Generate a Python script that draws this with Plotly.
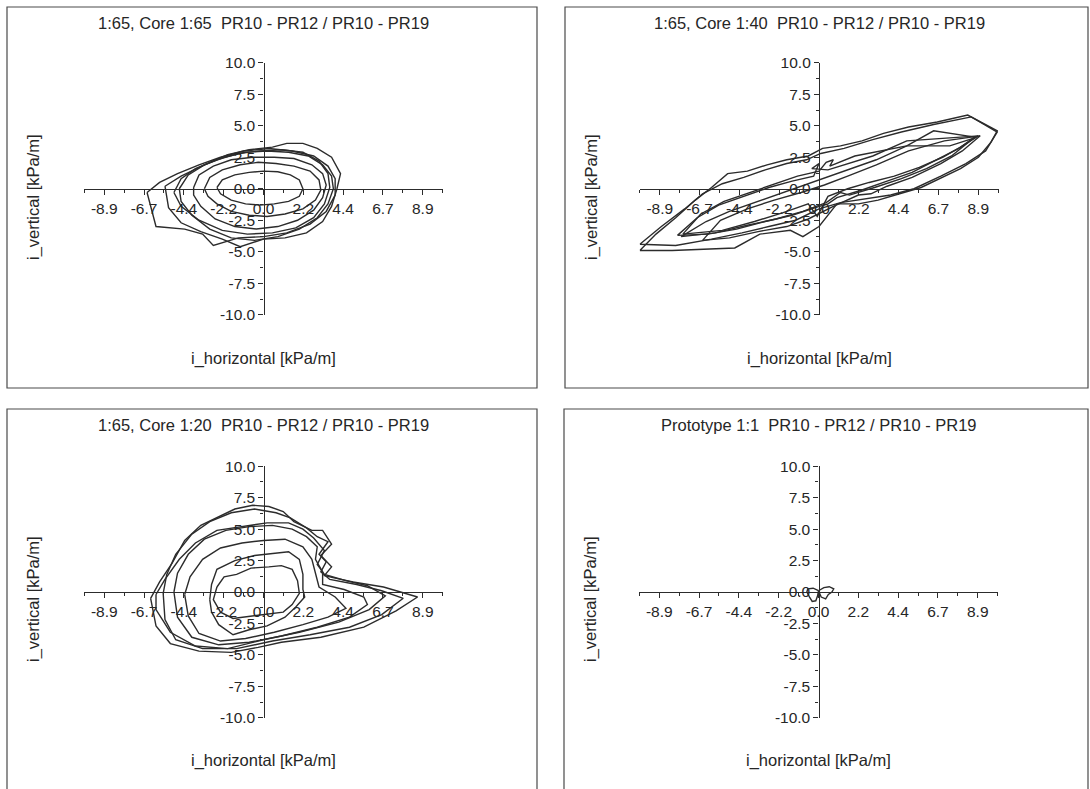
import plotly.graph_objects as go

# ---------------------------------------------------------------------------
# Tick labels (shared by all four panels)
# ---------------------------------------------------------------------------
XTICK_TEXT = ["-8.9", "-6.7", "-4.4", "-2.2", "0.0", "2.2", "4.4", "6.7", "8.9"]
XTICK_VALS = [k * 20 / 9 for k in range(-4, 5)]
XMINOR_VALS = [-10, -70 / 9, -50 / 9, -30 / 9, -10 / 9, 10 / 9, 30 / 9, 50 / 9, 70 / 9, 10]
YTICK_TEXT = ["-10.0", "-7.5", "-5.0", "-2.5", "0.0", "2.5", "5.0", "7.5", "10.0"]
YTICK_VALS = [-10, -7.5, -5, -2.5, 0, 2.5, 5, 7.5, 10]
YMINOR_VALS = [-8.75, -6.25, -3.75, -1.25, 1.25, 3.75, 6.25, 8.75]

TITLES = [
    "1:65, Core 1:65  PR10 - PR12 / PR10 - PR19",
    "1:65, Core 1:40  PR10 - PR12 / PR10 - PR19",
    "1:65, Core 1:20  PR10 - PR12 / PR10 - PR19",
    "Prototype 1:1  PR10 - PR12 / PR10 - PR19",
]
X_TITLE = "i_horizontal [kPa/m]"
Y_TITLE = "i_vertical [kPa/m]"

# ---------------------------------------------------------------------------
# Measured loops (i_horizontal, i_vertical) in kPa/m
# ---------------------------------------------------------------------------
# Core 1:65
c65_a = [(-2.6, 0.1), (-2.3, 0.7), (-1.6, 1.1), (-0.8, 1.3), (0.0, 1.4), (0.8, 1.35), (1.5, 1.1),
         (2.0, 0.7), (2.2, 0.0), (2.0, -0.6), (1.4, -1.0), (0.6, -1.2), (-0.2, -1.3), (-1.0, -1.2),
         (-1.8, -0.9), (-2.4, -0.4), (-2.6, 0.1)]
c65_b = [(-3.3, 0.0), (-3.0, 0.9), (-2.3, 1.5), (-1.3, 1.9), (-0.3, 2.1), (0.7, 2.0), (1.7, 1.8),
         (2.6, 1.4), (3.1, 0.7), (3.2, -0.1), (2.9, -0.9), (2.2, -1.6), (1.2, -2.0), (0.2, -2.2),
         (-0.8, -2.1), (-1.8, -1.8), (-2.6, -1.2), (-3.1, -0.6), (-3.3, 0.0)]
c65_c = [(-3.9, 0.1), (-3.6, 1.1), (-2.8, 1.8), (-1.8, 2.3), (-0.6, 2.5), (0.6, 2.5), (1.7, 2.4),
         (2.7, 1.9), (3.3, 1.2), (3.5, 0.3), (3.3, -0.7), (2.8, -1.7), (1.9, -2.5), (0.8, -3.0),
         (-0.4, -3.2), (-1.6, -3.0), (-2.7, -2.4), (-3.5, -1.4), (-3.9, -0.5), (-3.9, 0.1)]
c65_d = [(-4.7, 0.0), (-4.2, 1.1), (-3.3, 1.9), (-2.2, 2.5), (-1.0, 2.9), (0.2, 3.0), (1.4, 2.9),
         (2.5, 2.6), (3.3, 1.9), (3.8, 1.0), (3.9, 0.0), (3.6, -1.2), (3.0, -2.3), (2.0, -3.2),
         (0.8, -3.8), (-0.5, -4.1), (-1.8, -3.9), (-3.0, -3.2), (-4.0, -2.1), (-4.6, -1.0), (-4.7, 0.0)]
c65_e = [(-6.5, -0.3), (-5.8, 0.5), (-4.8, 1.2), (-3.6, 1.9), (-2.4, 2.5), (-1.1, 3.0), (0.3, 3.2),
         (1.6, 3.0), (2.8, 2.6), (3.6, 1.8), (4.0, 0.8), (4.0, -0.5), (3.5, -1.8), (2.6, -2.8),
         (1.3, -3.5), (0.0, -3.8), (-1.4, -3.9), (-2.8, -4.5), (-3.4, -3.6), (-4.4, -3.2),
         (-6.0, -3.0), (-6.5, -0.3)]
c65_f = [(-5.5, 0.2), (-4.6, 1.0), (-3.3, 1.9), (-2.0, 2.7), (-0.8, 3.1), (0.5, 3.3), (1.3, 3.6),
         (2.2, 3.6), (3.0, 3.2), (3.8, 2.5), (4.3, 1.2), (4.1, 0.0), (3.8, -1.4), (3.3, -2.6),
         (2.4, -3.5), (1.2, -3.9), (0.0, -4.0), (-1.3, -4.6), (-2.3, -4.0), (-3.5, -3.4),
         (-4.6, -2.7), (-5.3, -1.5), (-5.5, 0.2)]
c65_g = [(-5.0, -0.3), (-4.6, 0.8), (-3.8, 1.6), (-2.6, 2.3), (-1.4, 2.8), (-0.2, 3.0), (1.0, 3.1),
         (2.2, 2.9), (3.1, 2.2), (3.6, 1.2), (3.7, 0.1), (3.4, -1.2), (2.8, -2.3), (1.8, -3.1),
         (0.5, -3.5), (-0.9, -3.6), (-2.3, -3.3), (-3.6, -2.5), (-4.6, -1.4), (-5.0, -0.3)]

# Core 1:40
c40_a = [(-10.0, -4.9), (-9.1, -3.6), (-8.0, -2.3), (-6.9, -0.9), (-6.0, 0.1), (-5.1, 1.2), (-4.0, 1.4),
         (-2.9, 1.9), (-1.8, 2.3), (-0.6, 2.6), (0.2, 3.2), (1.2, 3.4), (2.4, 3.8), (3.6, 4.4), (5.0, 4.9),
         (6.6, 5.3), (8.3, 5.85), (9.95, 4.6), (9.6, 3.7), (8.9, 2.5), (7.9, 1.6), (6.9, 0.9), (5.7, 0.1),
         (4.5, -0.4), (3.3, -0.9), (2.2, -1.2), (1.0, -1.2), (0.0, -3.0), (-0.9, -3.8), (-1.6, -3.3),
         (-3.3, -3.6), (-4.7, -4.7), (-6.5, -4.8), (-8.2, -4.9), (-10.0, -4.9)]
c40_b = [(-10.0, -4.4), (-8.8, -3.0), (-7.5, -1.6), (-6.5, -0.4), (-5.4, 0.4), (-4.2, 0.9), (-3.0, 1.5),
         (-1.8, 2.0), (-0.7, 2.3), (0.1, 2.8), (1.4, 3.2), (3.0, 3.9), (4.6, 4.5), (6.4, 5.1), (8.5, 5.7),
         (9.95, 4.5), (9.3, 3.0), (8.2, 2.0), (6.8, 1.0), (5.3, 0.0), (4.0, -0.5), (2.6, -0.8),
         (1.2, -1.1), (0.0, -1.6), (-1.3, -2.5), (-2.8, -3.0), (-4.3, -3.5), (-6.0, -4.0), (-8.0, -4.5),
         (-10.0, -4.4)]
c40_c = [(-7.9, -3.7), (-6.8, -2.3), (-5.6, -1.3), (-4.2, -0.6), (-2.8, 0.1), (-1.5, 0.6), (-0.3, 1.0),
         (0.0, 2.0), (-0.4, 1.6), (0.5, 1.5), (1.6, 2.0), (3.0, 2.6), (4.9, 3.8), (8.9, 4.2), (7.8, 3.2),
         (6.6, 2.3), (5.2, 1.3), (3.8, 0.6), (2.4, -0.1), (1.0, -0.7), (0.5, -1.2), (-0.2, -1.5),
         (-1.5, -2.1), (-3.0, -2.6), (-4.6, -3.2), (-6.2, -3.6), (-7.9, -3.7)]
c40_d = [(-7.7, -3.8), (-6.3, -2.6), (-5.0, -1.8), (-3.6, -1.1), (-2.2, -0.4), (-0.9, 0.2), (0.3, 0.8),
         (1.6, 1.5), (3.2, 2.3), (4.9, 3.4), (7.3, 3.4), (8.6, 4.0), (7.4, 2.6), (6.0, 1.6), (4.6, 0.8),
         (3.1, 0.1), (1.7, -0.5), (1.2, -0.3), (0.4, -1.1), (-0.9, -1.8), (-2.4, -2.4), (-4.0, -2.9),
         (-5.8, -3.5), (-7.7, -3.8)]
c40_e = [(-7.6, -3.6), (-6.6, -2.0), (-5.3, -1.0), (-3.9, -0.3), (-2.5, 0.4), (-1.2, 1.0), (0.0, 1.4),
         (0.4, 2.1), (0.8, 2.3), (0.6, 1.8), (2.0, 2.6), (3.4, 3.0), (4.9, 3.4), (6.4, 4.6), (8.7, 4.1),
         (7.9, 3.3), (6.9, 2.5), (5.6, 1.7), (4.2, 1.0), (2.8, 0.5), (1.6, 0.0), (0.5, -0.6),
         (-0.1, -2.2), (-0.6, -1.2), (-2.0, -1.9), (-3.6, -2.6), (-5.4, -3.3), (-7.6, -3.6)]
c40_f = [(-6.5, -4.1), (-5.5, -2.5), (-4.0, -1.6), (-2.5, -0.9), (-1.0, -0.3), (0.3, 0.3), (1.6, 1.0),
         (3.2, 1.9), (5.0, 3.0), (7.0, 3.8), (9.0, 4.2), (8.0, 3.0), (6.8, 2.0), (5.2, 0.9), (3.8, 0.2),
         (2.9, -0.4), (2.2, -0.5), (1.6, -0.9), (0.8, -1.4), (-0.6, -2.4), (-1.8, -3.0), (-3.4, -3.4),
         (-5.0, -3.9), (-6.5, -4.1)]

# Core 1:20
c20_a = [(-6.3, -0.5), (-5.8, 0.8), (-5.1, 2.3), (-4.4, 4.1), (-3.5, 5.3), (-2.5, 6.0), (-1.6, 6.6),
         (-0.6, 6.9), (0.3, 6.8), (1.1, 6.4), (1.7, 5.6), (2.7, 4.9), (3.3, 4.9), (3.8, 3.8), (3.2, 2.9),
         (3.8, 2.0), (3.4, 1.3), (4.0, 1.1), (5.0, 0.8), (6.7, 0.4), (8.6, -0.4), (7.4, -1.5),
         (5.6, -2.8), (3.2, -3.6), (1.0, -4.0), (-0.3, -4.4), (-1.8, -4.8), (-3.6, -4.7), (-5.2, -4.1),
         (-6.0, -2.7), (-6.3, -0.5)]
c20_b = [(-5.6, -0.1), (-5.4, 1.4), (-4.9, 3.0), (-4.0, 4.6), (-3.0, 5.6), (-1.8, 6.3), (-0.5, 6.6),
         (0.7, 6.3), (1.5, 5.9), (2.4, 5.1), (3.0, 4.4), (3.6, 4.0), (3.1, 3.0), (3.5, 2.4), (3.2, 1.6),
         (3.7, 1.0), (5.2, 0.6), (6.6, 0.1), (7.8, -0.5), (6.6, -1.8), (4.8, -2.8), (2.6, -3.4),
         (0.5, -3.9), (-1.5, -4.5), (-3.4, -4.5), (-4.9, -3.8), (-5.5, -2.2), (-5.6, -0.1)]
c20_c = [(-5.0, 0.0), (-4.8, 1.5), (-4.2, 3.0), (-3.3, 4.2), (-2.1, 4.9), (-0.8, 5.2), (0.5, 5.3),
         (1.6, 5.0), (2.4, 4.4), (3.0, 3.6), (2.9, 2.6), (3.3, 1.6), (3.3, 0.6), (4.5, 0.2), (5.6, -0.4),
         (5.8, -1.0), (4.8, -2.0), (3.0, -2.8), (1.0, -3.5), (-0.8, -4.0), (-2.5, -4.2), (-4.0, -3.6),
         (-4.8, -2.0), (-5.0, 0.0)]
c20_d = [(-4.4, -0.2), (-4.1, 1.2), (-3.4, 2.6), (-2.4, 3.5), (-1.2, 3.9), (0.0, 4.1), (1.2, 4.2),
         (2.2, 3.6), (2.7, 2.6), (2.9, 1.5), (3.1, 0.4), (4.0, -0.4), (4.6, -1.3), (3.6, -2.0),
         (2.2, -2.6), (0.6, -3.2), (-1.0, -3.7), (-2.4, -3.9), (-3.6, -3.3), (-4.2, -1.9), (-4.4, -0.2)]
c20_e = [(-3.0, -0.6), (-2.9, 0.6), (-2.6, 1.8), (-1.6, 2.5), (-0.5, 2.9), (0.6, 3.1), (1.4, 3.2),
         (2.0, 2.6), (2.2, 1.4), (2.2, 0.2), (2.3, -0.4), (1.8, -1.2), (1.2, -2.0), (0.2, -2.7),
         (-0.8, -3.0), (-1.7, -3.4), (-2.5, -2.6), (-2.9, -1.6), (-3.0, -0.6)]
c20_f = [(-2.6, 0.4), (-2.2, 1.2), (-1.5, 1.4), (-0.7, 1.9), (0.3, 2.0), (1.0, 2.1), (1.6, 1.8),
         (1.9, 0.9), (2.0, -0.1), (1.6, -1.0), (1.1, -1.6), (0.0, -1.8), (-0.8, -1.9), (-1.7, -2.1),
         (-2.4, -1.6), (-2.8, -0.6), (-2.6, 0.4)]
c20_g = [(-6.0, -0.2), (-5.5, 1.0), (-4.7, 2.6), (-3.8, 3.9), (-2.6, 4.9), (-1.2, 5.2), (0.2, 5.5),
         (1.4, 5.5), (2.2, 5.0), (2.8, 4.3), (3.4, 3.3), (3.0, 2.2), (3.4, 1.4), (4.6, 0.9), (5.8, 0.5),
         (6.8, -0.3), (5.9, -1.4), (4.2, -2.4), (2.0, -3.2), (0.0, -3.8), (-2.0, -4.5), (-3.8, -4.3),
         (-5.2, -3.2), (-6.0, -1.4), (-6.0, -0.2)]

# Prototype 1:1
proto_a = [(0.0, 0.1), (-0.3, 0.3), (-0.6, 0.25), (-0.65, 0.0), (-0.5, -0.4), (-0.35, -0.75),
           (-0.15, -0.7), (-0.05, -0.3), (0.0, 0.1)]
proto_b = [(0.0, 0.1), (0.3, 0.35), (0.6, 0.42), (0.85, 0.25), (0.75, 0.0), (0.55, -0.2),
           (0.4, -0.55), (0.15, -0.4), (0.0, 0.1)]

PANEL_LOOPS = [
    [c65_a, c65_b, c65_c, c65_d, c65_e, c65_f, c65_g],
    [c40_a, c40_b, c40_c, c40_d, c40_e, c40_f],
    [c20_a, c20_b, c20_c, c20_d, c20_e, c20_f, c20_g],
    [proto_a, proto_b],
]

# ---------------------------------------------------------------------------
# Page geometry (pixels)
# ---------------------------------------------------------------------------
W, H = 1090, 789
# x pixel of the vertical axis, y pixels of +10 / -10 on the vertical axis,
# panel frame (left, top, right, bottom)
GEOM = [
    dict(xc=263.5, ytop=62.5, ybot=315.0, frame=(7, 7, 537, 388)),
    dict(xc=819.0, ytop=62.5, ybot=315.0, frame=(565, 7, 1088, 388)),
    dict(xc=263.5, ytop=466.0, ybot=718.0, frame=(7, 409, 537, 800)),
    dict(xc=818.5, ytop=466.0, ybot=718.0, frame=(564, 409, 1088, 800)),
]
HALF_W = 179.5  # pixels from 0 to +/-10 on the horizontal axis

FONT = "Liberation Sans, Arial, Helvetica, sans-serif"
INK = "#262626"
LINE = "#2c2c2c"


def px(x):
    return x / W


def py(y):
    return 1 - y / H


fig = go.Figure()
layout = dict(
    width=W, height=H, margin=dict(l=0, r=0, t=0, b=0, autoexpand=False),
    paper_bgcolor="white", plot_bgcolor="rgba(0,0,0,0)",
    showlegend=False, font=dict(family=FONT, color=INK),
)
annotations = []
shapes = []

for i, (g, loops, title) in enumerate(zip(GEOM, PANEL_LOOPS, TITLES)):
    n = "" if i == 0 else str(i + 1)
    for loop in loops:
        fig.add_trace(go.Scatter(
            x=[p[0] for p in loop], y=[p[1] for p in loop],
            mode="lines", line=dict(color=LINE, width=1.4),
            xaxis="x" + n, yaxis="y" + n, hoverinfo="skip",
        ))

    xdom = [px(g["xc"] - HALF_W), px(g["xc"] + HALF_W)]
    ydom = [py(g["ybot"]), py(g["ytop"])]
    yzero = (g["ytop"] + g["ybot"]) / 2

    common = dict(
        showline=True, linecolor=LINE, linewidth=1.3,
        ticks="outside", ticklen=5, tickwidth=1.2, tickcolor=LINE,
        tickmode="array", showgrid=False, zeroline=False,
        tickfont=dict(family=FONT, size=15.5, color=INK),
        anchor="free", fixedrange=True, automargin=False,
    )
    layout["xaxis" + n] = dict(
        common, domain=xdom, range=[-10.02, 10.02], position=py(yzero), side="bottom",
        tickvals=XTICK_VALS, ticktext=XTICK_TEXT,
        minor=dict(tickmode="array", tickvals=XMINOR_VALS, ticks="outside",
                   ticklen=3, tickcolor=LINE, tickwidth=1),
    )
    layout["yaxis" + n] = dict(
        common, domain=ydom, range=[-10.02, 10.02], position=px(g["xc"]), side="left",
        tickvals=YTICK_VALS, ticktext=YTICK_TEXT,
        minor=dict(tickmode="array", tickvals=YMINOR_VALS, ticks="outside",
                   ticklen=3, tickcolor=LINE, tickwidth=1),
    )

    l, t, r, b = g["frame"]
    shapes.append(dict(type="rect", xref="paper", yref="paper",
                       x0=px(l), x1=px(r), y0=py(b), y1=py(t),
                       line=dict(color="#4a4a4a", width=1.2)))

    annotations.append(dict(
        text=title, xref="paper", yref="paper", x=px(g["xc"]), y=py(t + 16),
        xanchor="center", yanchor="middle", showarrow=False,
        font=dict(family=FONT, size=16.5, color=INK)))
    annotations.append(dict(
        text=X_TITLE, xref="paper", yref="paper", x=px(g["xc"]), y=py(t + 351),
        xanchor="center", yanchor="middle", showarrow=False,
        font=dict(family=FONT, size=16.5, color=INK)))
    annotations.append(dict(
        text=Y_TITLE, xref="paper", yref="paper", x=px(l + 26), y=py(t + 190),
        xanchor="center", yanchor="middle", showarrow=False, textangle=-90,
        font=dict(family=FONT, size=16.5, color=INK)))

layout["annotations"] = annotations
layout["shapes"] = shapes
fig.update_layout(**layout)
fig.write_html("out.html")
